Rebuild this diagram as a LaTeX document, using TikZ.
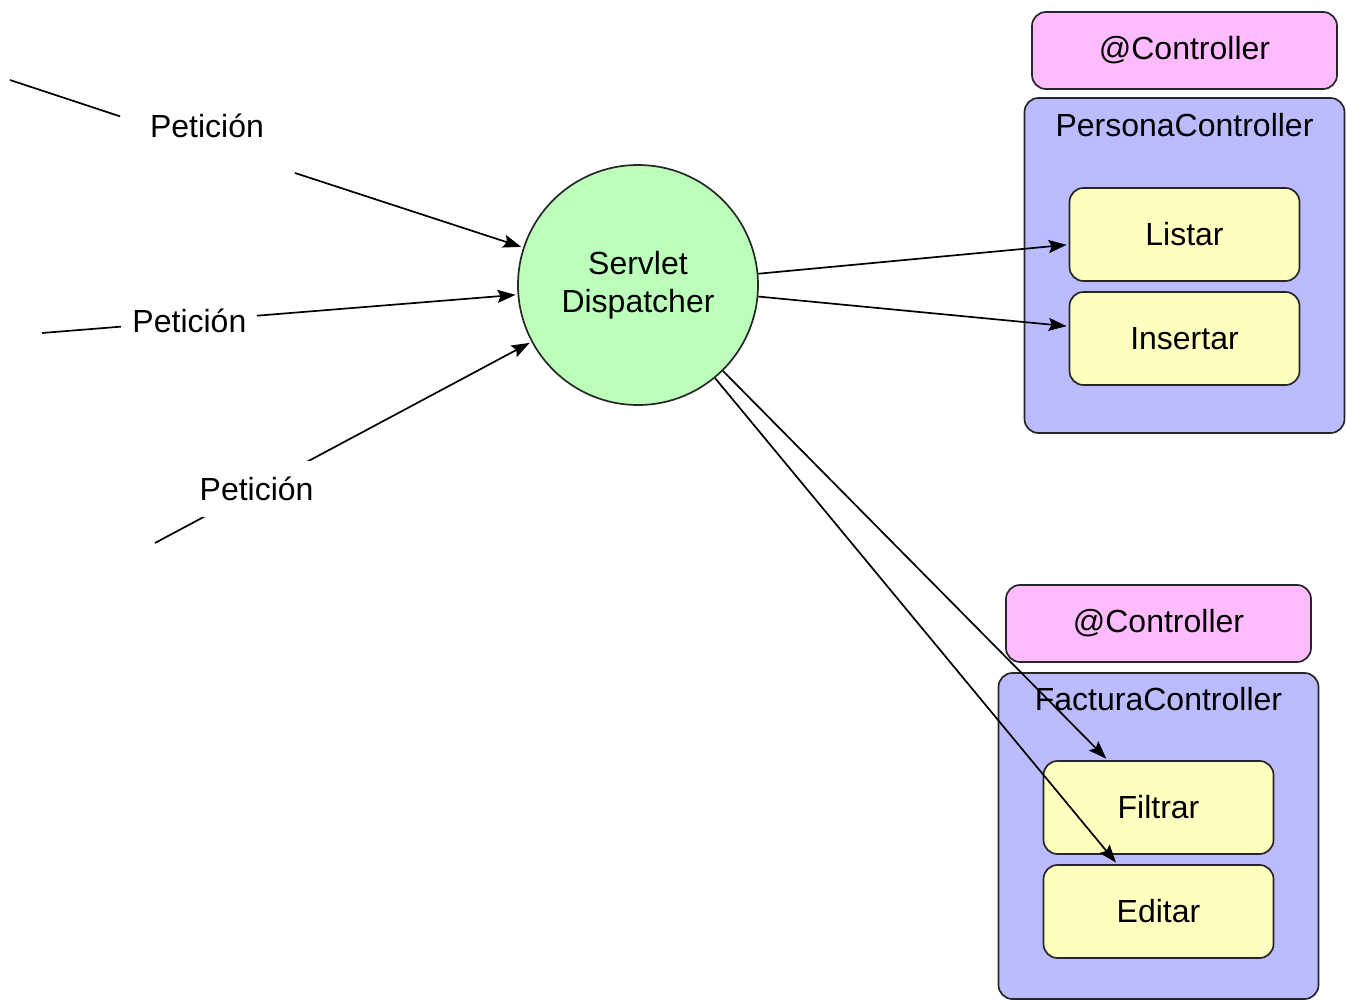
\documentclass[tikz,border=0pt]{standalone}
\usepackage{fontspec}
\setmainfont{Liberation Sans}
\usetikzlibrary{arrows.meta,positioning}
\definecolor{dispgreen}{HTML}{BBFFBB}
\definecolor{annotpink}{HTML}{FFBBFF}
\definecolor{ctrlblue}{HTML}{BBBBFF}
\definecolor{actyellow}{HTML}{FFFFC0}

\tikzset{
	dispatcher/.style={circle, draw=black!85, fill=dispgreen, minimum size=120pt, align=center, inner sep=0pt},
	annot/.style={rectangle, rounded corners=7pt, draw=black!85, fill=annotpink, minimum width=152.5pt, minimum height=38.5pt},
	ctrlbox/.style={rectangle, rounded corners=7pt, draw=black!85, fill=ctrlblue, minimum width=160pt},
	action/.style={rectangle, rounded corners=7pt, draw=black!85, fill=actyellow, minimum width=115pt, minimum height=46.5pt},
	req/.style={fill=white, inner xsep=5.5pt, inner ysep=8pt},
}

\begin{document}
\begin{tikzpicture}[x=0.5pt,y=-0.5pt,on grid,line width=0.85pt,
	font=\fontsize{16}{19}\selectfont,
	>={Stealth[length=9pt,width=6.5pt,inset=1.5pt]},shorten >=1pt]
\useasboundingbox (0,0) rectangle (1346,1001);

% dispatcher and controllers
\node[dispatcher]	(disp)		at (638,285)					{Servlet\\Dispatcher};
\node[annot]		(ctrlA)		at (1184.5,50.5)				{@Controller};
\node[ctrlbox, minimum height=167.5pt, label={[anchor=center,yshift=-14pt]north:PersonaController}]
					(persona)	[below=107.5pt of ctrlA]		{};
\node[action]		(listar)	[above=15.5pt of persona]		{Listar};
\node[action]		(insertar)	[below=52pt of listar]			{Insertar};

\node[annot]		(ctrlB)		at (1158.5,623.5)				{@Controller};
\node[ctrlbox, minimum height=163pt, label={[anchor=center,yshift=-13.5pt]north:FacturaController}]
					(factura)	[below=106.25pt of ctrlB]		{};
\node[action]		(filtrar)	[above=14.25pt of factura]		{Filtrar};
\node[action]		(editar)	[below=52pt of filtrar]			{Editar};

% incoming requests
\coordinate (in1)	at (10,80);
\coordinate (gap1a)	at (122,117);
\coordinate (gap1b)	at (295,173);
\coordinate (in2)	at (42,333);
\coordinate (in3)	at (155,543);
\node[req]			(pet1)		at (207,126)					{Petición};

\path[->]
(in1)		edge	[-]										(gap1a)
(gap1b)		edge											(disp)
(in2)		edge	node[req, pos=0.31]		(pet2)	{Petición}	(disp)
(in3)		edge	node[req, pos=0.27]		(pet3)	{Petición}	(disp)

(disp)		edge											(listar.185)
			edge											(insertar.174)
			edge											(filtrar.137)
			edge											(editar.131)
;
\end{tikzpicture}
\end{document}
